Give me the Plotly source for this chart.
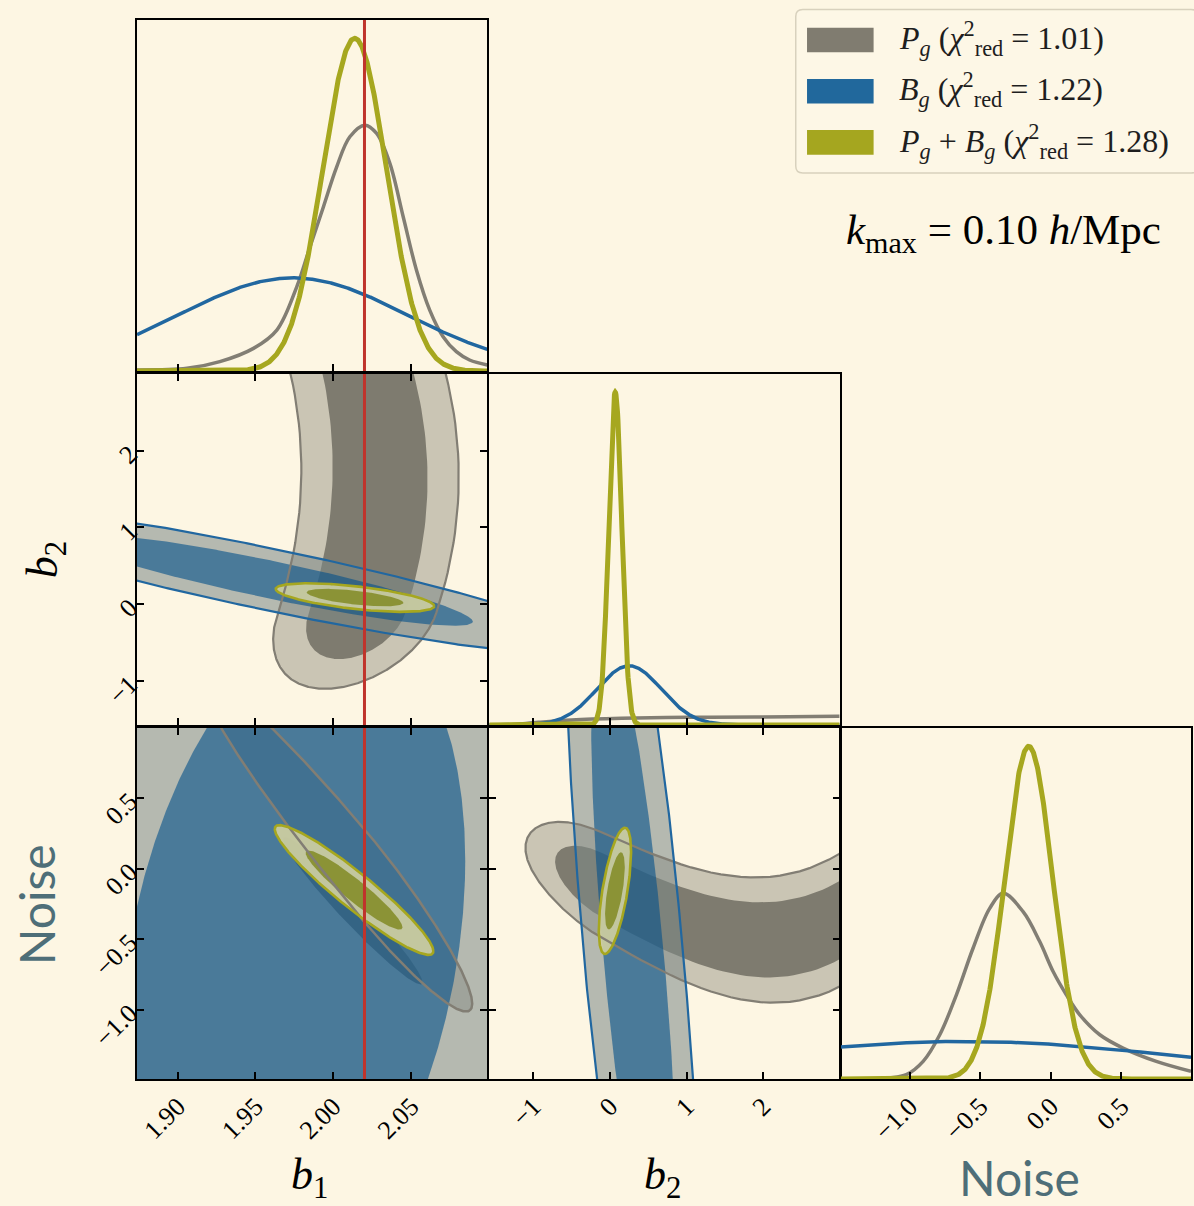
import numpy as np
import plotly.graph_objects as go

# ------------------------------------------------------------------ data
B1_RANGE = [1.8739, 2.0989]
B2_RANGE = [-1.575, 3.0]
NOISE_RANGE = [-1.49, 0.995]
DENS_RANGE = [0.0, 1.055]

B1_TICKVALS = [1.90, 1.95, 2.00, 2.05]
B1_TICKTEXT = ["1.90", "1.95", "2.00", "2.05"]
B2_TICKVALS = [-1, 0, 1, 2]
B2_TICKTEXT = ["\u22121", "0", "1", "2"]
NOISE_TICKVALS = [-1.0, -0.5, 0.0, 0.5]
NOISE_TICKTEXT = ["\u22121.0", "\u22120.5", "0.0", "0.5"]

B1_FIDUCIAL = 2.02

LEGEND_LABELS = ["<i>P<sub>g</sub></i>", "<i>B<sub>g</sub></i>",
                 "<i>P<sub>g</sub></i> + <i>B<sub>g</sub></i>"]
CHI2_RED = [1.01, 1.22, 1.28]
KMAX = 0.10

# 1-D marginals (Gaussian shaped): mean, sigma, peak height
OLIVE_B1 = [2.0137, 0.0205, 1.0]
BLUE_B1 = [1.974, 0.073, 0.28]
OLIVE_B2 = [0.069, 0.085, 1.0]
BLUE_B2 = [0.25, 0.42, 0.178]
OLIVE_NOISE = [-0.156, 0.17, 1.0]
BLUE_NOISE = [-0.62, 1.55, 0.113]

# 1-D marginals of P_g (non-Gaussian), read point by point
GRAY_B1_X = [1.8739, 1.9060, 1.9271, 1.9487, 1.9637, 1.9765, 1.9850, 1.9936, 2.0021,
             2.0106, 2.0203, 2.0278, 2.0363, 2.0449, 2.0534, 2.0619, 2.0705, 2.0790,
             2.0875, 2.0989]
GRAY_B1_Y = [0.003, 0.008, 0.028, 0.068, 0.123, 0.253, 0.373, 0.493, 0.613,
             0.704, 0.739, 0.714, 0.624, 0.463, 0.303, 0.183, 0.103, 0.058,
             0.033, 0.018]
GRAY_B2_X = [-1.587, -1.326, -0.935, -0.5, 0.151, 1.02, 1.89, 2.977, 3.0]
GRAY_B2_Y = [0.0, 0.0, 0.008, 0.015, 0.020, 0.023, 0.024, 0.026, 0.026]
GRAY_NOISE_X = [-1.496, -1.26, -1.142, -1.024, -0.905, -0.787, -0.669, -0.551, -0.433,
                -0.338, -0.196, -0.078, 0.017, 0.111, 0.206, 0.348, 0.513, 0.749, 0.995]
GRAY_NOISE_Y = [0.0, 0.0, 0.003, 0.013, 0.053, 0.133, 0.253, 0.393, 0.513,
                0.558, 0.503, 0.413, 0.323, 0.253, 0.193, 0.133, 0.093, 0.053, 0.023]

# 2-D Gaussian posteriors: mean_x, mean_y, sigma_x, sigma_y, correlation
BLUE_B1_B2 = [1.9596, 0.32, 0.0857, 0.397, -0.909]
BLUE_B1_NOISE = [1.974, -0.62, 0.073, 1.55, 0.287]
BLUE_B2_NOISE = [0.31, -0.62, 0.366, 1.55, -0.70]
OLIVE_B1_B2 = [2.0139, 0.086, 0.0205, 0.075, -0.60]
OLIVE_B1_NOISE = [2.0133, -0.152, 0.0205, 0.185, -0.94]
OLIVE_B2_NOISE = [0.065, -0.158, 0.085, 0.18, 0.62]

# P_g posterior in b2: mode, sigma below / above (strongly skewed)
GRAY_B2_MODE = -0.11
GRAY_B2_SIGMA = [0.40, 6.0]
# P_g (b1, b2): curved ridge b1(b2) = peak - bend*(b2 - b2_at_peak)^2, width in b1
GRAY_B1_RIDGE = [2.030, 1.7, 0.0045]
GRAY_B1_WIDTH = 0.0205
# P_g (b2, Noise): ridge of Noise along b2, and width in Noise (at b2=-0.5, slope)
GRAY_NOISE_RIDGE_B2 = [-1.1, -0.78, -0.5, 0.37, 1.24, 2.1, 2.98]
GRAY_NOISE_RIDGE_N = [0.12, 0.09, 0.013, -0.27, -0.45, -0.48, -0.38]
GRAY_NOISE_WIDTH = [0.145, 0.014]
# P_g (b1, Noise) contours: centre, half-axis to low-noise end, to high-noise end, half width
GRAY_B1N_OUTER = [[2.0169, -0.0078], [0.0707, -0.9965], [-0.0994, 1.3399], [0.0150, 0.1270]]
GRAY_B1N_INNER = [[2.0125, -0.2994], [0.0444, -0.5176], [-0.0444, 0.5176], [0.0058, 0.0605]]

# ------------------------------------------------------------------ style
BG = "#fdf6e3"
GRAY_LINE, BLUE_LINE, OLIVE_LINE = "#827e74", "#2167a0", "#a6a71f"
GRAY_PATCH, BLUE_PATCH, OLIVE_PATCH = "#807c70", "#21689c", "#a5a61f"
GRAY_OUT, GRAY_IN = "#cac5b4", "#7e7b6f"
BLUE_OUT, BLUE_IN = "rgba(125,137,136,0.56)", "rgba(4,80,138,0.60)"
OLIVE_OUT, OLIVE_IN = "rgba(205,205,160,0.93)", "rgba(136,145,50,0.96)"
RED = "#c0342c"
NOISE_COLOR = "#4e6e78"
SERIF = "Liberation Serif"

R68, R95 = np.sqrt(2.30), np.sqrt(6.17)
T = np.linspace(0, 2 * np.pi, 721)

fig = go.Figure()


def ax(k):
    return ("x" if k == 1 else f"x{k}"), ("y" if k == 1 else f"y{k}")


def add(tr, k):
    xa, ya = ax(k)
    tr.update(xaxis=xa, yaxis=ya, hoverinfo="skip", showlegend=False)
    fig.add_trace(tr)


def fill(xy, color, k):
    add(go.Scatter(x=xy[0], y=xy[1], mode="lines", line=dict(width=0, color=color),
                   fill="toself", fillcolor=color), k)


def outline(xy, color, k, w=2.2):
    add(go.Scatter(x=xy[0], y=xy[1], mode="lines", line=dict(width=w, color=color)), k)


def gauss_contour(p, r):
    mx, my, sx, sy, rho = p
    u, v = r * np.cos(T), r * np.sin(T)
    return mx + sx * u, my + sy * (rho * u + np.sqrt(1 - rho ** 2) * v)


def gray_b2(v):
    return GRAY_B2_MODE + np.where(v < 0, GRAY_B2_SIGMA[0], GRAY_B2_SIGMA[1]) * v


def gray_b1b2(r):
    u, v = r * np.cos(T), r * np.sin(T)
    b2 = gray_b2(v)
    peak, b2p, bend = GRAY_B1_RIDGE
    return peak - bend * (b2 - b2p) ** 2 + GRAY_B1_WIDTH * u, b2


RIDGE_COEF = np.polyfit(GRAY_NOISE_RIDGE_B2, GRAY_NOISE_RIDGE_N, 3)


def gray_b2n(r):
    u, v = r * np.cos(T), r * np.sin(T)
    b2 = gray_b2(v)
    w0, w1 = GRAY_NOISE_WIDTH
    return b2, np.polyval(RIDGE_COEF, b2) + (w0 + w1 * (b2 + 0.5)) * u


def twopiece(par):
    c, a, b, w = [np.array(q) for q in par]
    cs, sn = np.cos(T)[:, None], np.sin(T)[:, None]
    pts = c + np.where(cs >= 0, cs * a, -cs * b) + sn * w
    return pts[:, 0], pts[:, 1]


def g1(x, p):
    m, s, h = p
    return h * np.exp(-0.5 * ((x - m) / s) ** 2)


# ------------------------------------------------------------------ 1-D panels
for k, rng, gx, gy, bp, op in [
        (1, B1_RANGE, GRAY_B1_X, GRAY_B1_Y, BLUE_B1, OLIVE_B1),
        (4, B2_RANGE, GRAY_B2_X, GRAY_B2_Y, BLUE_B2, OLIVE_B2),
        (6, NOISE_RANGE, GRAY_NOISE_X, GRAY_NOISE_Y, BLUE_NOISE, OLIVE_NOISE)]:
    xs = np.linspace(rng[0], rng[1], 900)
    add(go.Scatter(x=gx, y=gy, mode="lines", line=dict(color=GRAY_LINE, width=3.5, shape="spline", smoothing=1.0)), k)
    add(go.Scatter(x=xs, y=g1(xs, bp), mode="lines", line=dict(color=BLUE_LINE, width=3.5)), k)
    add(go.Scatter(x=xs, y=g1(xs, op), mode="lines", line=dict(color=OLIVE_LINE, width=5)), k)

# ------------------------------------------------------------------ 2-D panels
# (b1, b2)
k = 2
fill(gray_b1b2(R95), GRAY_OUT, k); fill(gray_b1b2(R68), GRAY_IN, k)
fill(gauss_contour(BLUE_B1_B2, R95), BLUE_OUT, k); fill(gauss_contour(BLUE_B1_B2, R68), BLUE_IN, k)
fill(gauss_contour(OLIVE_B1_B2, R95), OLIVE_OUT, k); fill(gauss_contour(OLIVE_B1_B2, R68), OLIVE_IN, k)
outline(gray_b1b2(R95), GRAY_LINE, k)
outline(gauss_contour(BLUE_B1_B2, R95), BLUE_LINE, k)
outline(gauss_contour(OLIVE_B1_B2, R95), OLIVE_LINE, k, 2.6)

# (b1, Noise)
k = 3
fill(twopiece(GRAY_B1N_OUTER), GRAY_OUT, k); fill(twopiece(GRAY_B1N_INNER), GRAY_IN, k)
fill(gauss_contour(BLUE_B1_NOISE, R95), BLUE_OUT, k); fill(gauss_contour(BLUE_B1_NOISE, R68), BLUE_IN, k)
fill(gauss_contour(OLIVE_B1_NOISE, R95), OLIVE_OUT, k); fill(gauss_contour(OLIVE_B1_NOISE, R68), OLIVE_IN, k)
outline(twopiece(GRAY_B1N_OUTER), GRAY_LINE, k, 2.5)
outline(gauss_contour(BLUE_B1_NOISE, R95), BLUE_LINE, k)
outline(gauss_contour(OLIVE_B1_NOISE, R95), OLIVE_LINE, k, 2.6)

# (b2, Noise)
k = 5
fill(gray_b2n(R95), GRAY_OUT, k); fill(gray_b2n(R68), GRAY_IN, k)
fill(gauss_contour(BLUE_B2_NOISE, R95), BLUE_OUT, k); fill(gauss_contour(BLUE_B2_NOISE, R68), BLUE_IN, k)
fill(gauss_contour(OLIVE_B2_NOISE, R95), OLIVE_OUT, k); fill(gauss_contour(OLIVE_B2_NOISE, R68), OLIVE_IN, k)
outline(gray_b2n(R95), GRAY_LINE, k)
outline(gauss_contour(BLUE_B2_NOISE, R95), BLUE_LINE, k)
outline(gauss_contour(OLIVE_B2_NOISE, R95), OLIVE_LINE, k, 2.6)

# ------------------------------------------------------------------ layout
L, TOP, PW, PH = 137, 20, 1056, 1059


def px(X):
    return (X - L) / PW


def py(Y):
    return (TOP + PH - Y) / PH


COL = [[px(137), px(488)], [px(490), px(841)], [px(842), px(1193)]]
ROW = [[py(371), py(20)], [py(725), py(374)], [py(1079), py(728)]]
TICKFONT = dict(family=SERIF, size=26, color="black")


def axis(rng, domain, anchor, vals=None, text=None, labels=False, ticks="inside", mirror="ticks"):
    d = dict(range=rng, domain=domain, anchor=anchor, showgrid=False, zeroline=False,
             showline=True, linecolor="black", linewidth=2, mirror=mirror, ticks=ticks,
             ticklen=7, tickwidth=1.5, tickcolor="black", showticklabels=labels,
             tickangle=-45, tickfont=TICKFONT, fixedrange=True)
    if vals is not None:
        d.update(tickmode="array", tickvals=vals, ticktext=text)
    return d


layout = dict(
    width=1194, height=1206, autosize=False,
    margin=dict(l=L, r=1194 - L - PW, t=TOP, b=1206 - TOP - PH, pad=0),
    paper_bgcolor=BG, plot_bgcolor=BG, showlegend=False,
    xaxis=axis(B1_RANGE, COL[0], "y", B1_TICKVALS, B1_TICKTEXT, mirror=True),
    yaxis=axis(DENS_RANGE, ROW[0], "x", ticks="", mirror=True),
    xaxis2=axis(B1_RANGE, COL[0], "y2", B1_TICKVALS, B1_TICKTEXT),
    yaxis2=axis(B2_RANGE, ROW[1], "x2", B2_TICKVALS, B2_TICKTEXT, labels=True),
    xaxis3=axis(B1_RANGE, COL[0], "y3", B1_TICKVALS, B1_TICKTEXT, labels=True),
    yaxis3=axis(NOISE_RANGE, ROW[2], "x3", NOISE_TICKVALS, NOISE_TICKTEXT, labels=True),
    xaxis4=axis(B2_RANGE, COL[1], "y4", B2_TICKVALS, B2_TICKTEXT, mirror=True),
    yaxis4=axis(DENS_RANGE, ROW[1], "x4", ticks="", mirror=True),
    xaxis5=axis(B2_RANGE, COL[1], "y5", B2_TICKVALS, B2_TICKTEXT, labels=True),
    yaxis5=axis(NOISE_RANGE, ROW[2], "x5", NOISE_TICKVALS, NOISE_TICKTEXT),
    xaxis6=axis(NOISE_RANGE, COL[2], "y6", NOISE_TICKVALS, NOISE_TICKTEXT, labels=True, mirror=True),
    yaxis6=axis(DENS_RANGE, ROW[2], "x6", ticks="", mirror=True),
)
fig.update_layout(**layout)

shapes = []
for k in (1, 2, 3):
    xa, ya = ax(k)
    shapes.append(dict(type="line", xref=xa, yref=f"{ya} domain", x0=B1_FIDUCIAL, x1=B1_FIDUCIAL,
                       y0=0, y1=1, line=dict(color=RED, width=3), layer="above"))


# legend frame
def rrect(X0, Y0, X1, Y1, r):
    return (f"M {px(X0 + r)},{py(Y0)} L {px(X1 - r)},{py(Y0)} Q {px(X1)},{py(Y0)} {px(X1)},{py(Y0 + r)} "
            f"L {px(X1)},{py(Y1 - r)} Q {px(X1)},{py(Y1)} {px(X1 - r)},{py(Y1)} "
            f"L {px(X0 + r)},{py(Y1)} Q {px(X0)},{py(Y1)} {px(X0)},{py(Y1 - r)} "
            f"L {px(X0)},{py(Y0 + r)} Q {px(X0)},{py(Y0)} {px(X0 + r)},{py(Y0)} Z")


shapes.append(dict(type="path", xref="paper", yref="paper", path=rrect(797, 9.5, 1200, 173, 7),
                   line=dict(color="#d8d1bd", width=1.5), fillcolor="rgba(253,247,230,0.8)", layer="above"))
annotations = []
for i, (lab, chi, col) in enumerate(zip(LEGEND_LABELS, CHI2_RED, [GRAY_PATCH, BLUE_PATCH, OLIVE_PATCH])):
    y0 = 27.7 + i * 51.2
    shapes.append(dict(type="rect", xref="paper", yref="paper", x0=px(808.3), x1=px(875),
                       y0=py(y0), y1=py(y0 + 24.6), fillcolor=col, line=dict(width=0), layer="above"))
    annotations.append(dict(xref="paper", yref="paper", x=px(898), y=py(y0 + 11), xanchor="left",
                            yanchor="middle", showarrow=False,
                            text=f"{lab} (<i>\u03c7</i><sup>2</sup><sub>red</sub> = {chi:.2f})",
                            font=dict(family=SERIF, size=32, color="#1e1e1e")))

annotations.append(dict(xref="paper", yref="paper", x=px(1005), y=py(233), xanchor="center",
                        yanchor="middle", showarrow=False,
                        text=f"<i>k</i><sub>max</sub> = {KMAX:.2f} <i>h</i>/Mpc",
                        font=dict(family=SERIF, size=43, color="black")))

# axis titles
for X, txt in [(310, "<i>b</i><sub>1</sub>"), (663, "<i>b</i><sub>2</sub>")]:
    annotations.append(dict(xref="paper", yref="paper", x=px(X), y=py(1207), xanchor="center",
                            yanchor="bottom", showarrow=False, text=txt,
                            font=dict(family=SERIF, size=44, color="black")))
annotations.append(dict(xref="paper", yref="paper", x=px(1021), y=py(1208), xanchor="center",
                        yanchor="bottom", showarrow=False, text="Noise",
                        font=dict(family="Lato", size=48, color=NOISE_COLOR)))
annotations.append(dict(xref="paper", yref="paper", x=px(45), y=py(560), xanchor="center",
                        yanchor="middle", showarrow=False, text="<i>b</i><sub>2</sub>", textangle=-90,
                        font=dict(family=SERIF, size=44, color="black")))
annotations.append(dict(xref="paper", yref="paper", x=px(36), y=py(905), xanchor="center",
                        yanchor="middle", showarrow=False, text="Noise", textangle=-90,
                        font=dict(family="Lato", size=48, color=NOISE_COLOR)))

fig.update_layout(shapes=shapes, annotations=annotations)
fig.write_html("out.html")
